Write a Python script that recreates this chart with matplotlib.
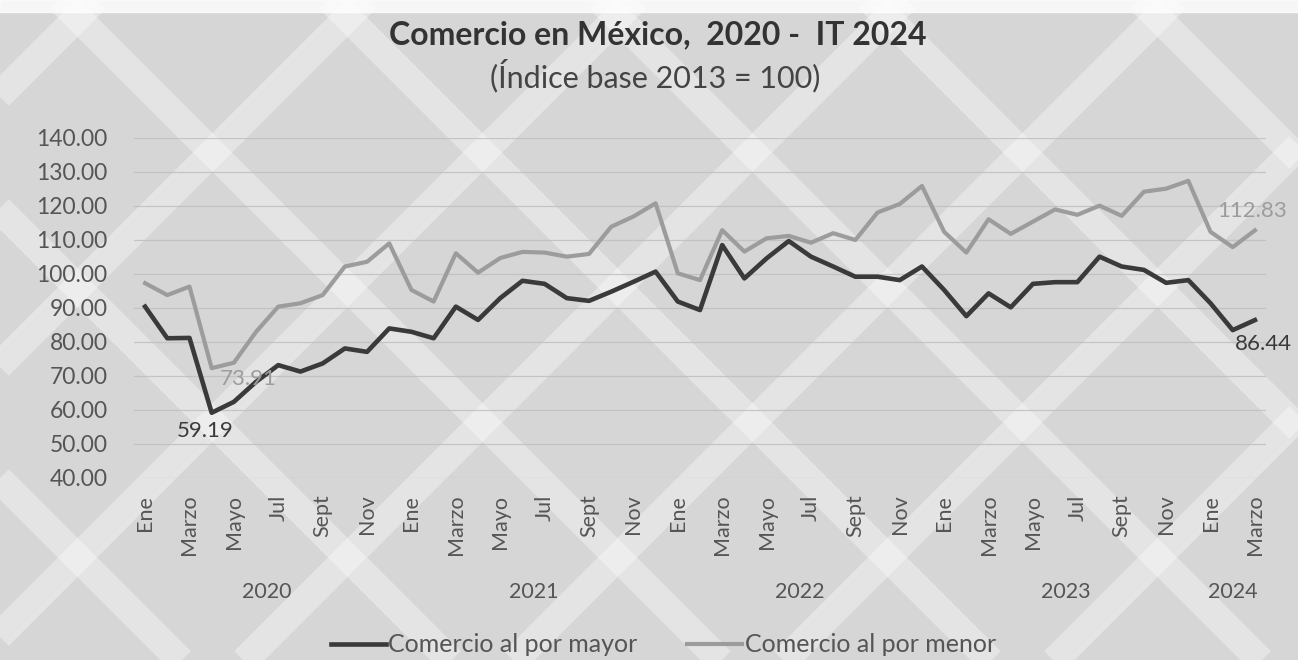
import numpy as np
import matplotlib.pyplot as plt
from matplotlib.lines import Line2D

plt.rcParams['font.family'] = ['Lato', 'DejaVu Sans']

# ---------------------------------------------------------------------------
# Datos: índice base 2013 = 100, mensual, enero 2020 - marzo 2024
# ---------------------------------------------------------------------------
years = ["2020", "2021", "2022", "2023", "2024"]
months_per_year = [12, 12, 12, 12, 3]
month_labels = ["Ene", "", "Marzo", "", "Mayo", "", "Jul", "", "Sept", "", "Nov", ""]

mayor = [90.4, 81.1, 81.2, 59.19, 62.4, 68.3, 73.2, 71.3, 73.7, 78.1, 77.1, 84.0,
         83.0, 81.1, 90.4, 86.5, 92.9, 98.0, 97.1, 92.9, 92.1, 94.8, 97.7, 100.7,
         91.9, 89.4, 108.5, 98.7, 104.6, 109.7, 105.1, 102.2, 99.2, 99.2, 98.2, 102.2,
         95.3, 87.6, 94.3, 90.2, 97.1, 97.6, 97.6, 105.1, 102.2, 101.2, 97.4, 98.2,
         91.4, 83.5, 86.44]

menor = [97.3, 93.8, 96.3, 72.3, 73.91, 83.0, 90.4, 91.4, 93.8, 102.2, 103.6, 109.0,
         95.3, 91.9, 106.1, 100.4, 104.7, 106.5, 106.3, 105.1, 105.9, 113.9, 116.9, 120.8,
         100.2, 98.2, 112.9, 106.6, 110.5, 111.2, 109.2, 112.0, 110.0, 118.1, 120.6, 125.9,
         112.4, 106.3, 116.1, 111.8, 115.4, 119.0, 117.4, 120.1, 117.1, 124.2, 125.1, 127.4,
         112.4, 107.9, 112.83]

# puntos con etiqueta de valor: (serie, índice, desplazamiento en pt)
labelled = [("mayor", 3, (-5, -13)), ("menor", 4, (10, -12)),
            ("menor", 50, (-2, 14)), ("mayor", 50, (6, -17))]

DARK = "#3a3a3a"
LIGHT = "#9c9c9c"

# ---------------------------------------------------------------------------
# Figura y fondo con greca
# ---------------------------------------------------------------------------
fig = plt.figure(figsize=(12.98, 6.6), dpi=100)
fig.patch.set_facecolor("#d6d6d6")

bg = fig.add_axes([0, 0, 1, 1], zorder=-5)
bg.set_xlim(0, 1298)
bg.set_ylim(660, 0)
bg.axis("off")
for c in range(-800, 2000, 270):
    bg.plot([c, c + 760], [-50, 710], color="white", lw=20, alpha=0.35,
            solid_capstyle="butt")
    bg.plot([c + 135, c + 135 - 760], [-50, 710], color="white", lw=20, alpha=0.35,
            solid_capstyle="butt")
bg.fill_between([0, 1298], 0, 12, color="white", alpha=0.8)

ax = fig.add_axes([134 / 1298, 182 / 660, 1132 / 1298, 340 / 660])
ax.set_facecolor("none")

x = np.arange(len(mayor))
ax.plot(x, mayor, color=DARK, lw=3.3, solid_joinstyle="round", zorder=3)
ax.plot(x, menor, color=LIGHT, lw=3.0, solid_joinstyle="round", zorder=2)

series = {"mayor": (mayor, DARK), "menor": (menor, LIGHT)}
for name, i, off in labelled:
    vals, col = series[name]
    ax.annotate(f"{vals[i]:.2f}", (x[i], vals[i]), xytext=off,
                textcoords="offset points", ha="center", va="center",
                fontsize=16, color=col, zorder=4)

ax.set_xlim(-0.5, len(mayor) - 0.5)
ax.set_ylim(40, 140)
ax.set_yticks(np.arange(40, 141, 10))
ax.yaxis.set_major_formatter(plt.FormatStrFormatter("%.2f"))
ax.grid(axis="y", color="#bdbdbd", lw=0.9, alpha=0.8)
ax.set_axisbelow(True)

# etiquetas de mes cada dos meses
ticks = []
ticklabels = []
start = 0
for n in months_per_year:
    for m in range(n):
        if month_labels[m]:
            ticks.append(start + m)
            ticklabels.append(month_labels[m])
    start += n
ax.set_xticks(ticks)
ax.set_xticklabels(ticklabels, rotation=90)

ax.tick_params(axis="both", length=0, colors="#555555", labelsize=15.5)
ax.tick_params(axis="x", pad=12)
ax.tick_params(axis="y", pad=19, labelsize=16.5)
for s in ax.spines.values():
    s.set_visible(False)

# año centrado bajo su grupo de meses
start = 0
for yr, n in zip(years, months_per_year):
    ax.text(start + (n - 1) / 2, -0.335, yr, transform=ax.get_xaxis_transform(),
            ha="center", va="center", fontsize=15.5, color="#555555")
    start += n

fig.text(0.507, 1 - 35 / 660, "Comercio en México,  2020 -  IT 2024",
         ha="center", va="center", fontsize=23, fontweight="bold", color="#333333")
fig.text(0.505, 1 - 76 / 660, "(Índice base 2013 = 100)",
         ha="center", va="center", fontsize=22, color="#444444")

handles = [Line2D([], [], color=DARK, lw=3.3), Line2D([], [], color=LIGHT, lw=3.0)]
fig.legend(handles, ["Comercio al por mayor", "Comercio al por menor"],
           loc="center", bbox_to_anchor=(0.511, 1 - 645 / 660), ncol=2, frameon=False,
           fontsize=18, handlelength=2.2, handletextpad=0.1, columnspacing=2.0,
           labelcolor="#555555")

fig.savefig("out.png", dpi=100, facecolor=fig.get_facecolor())
